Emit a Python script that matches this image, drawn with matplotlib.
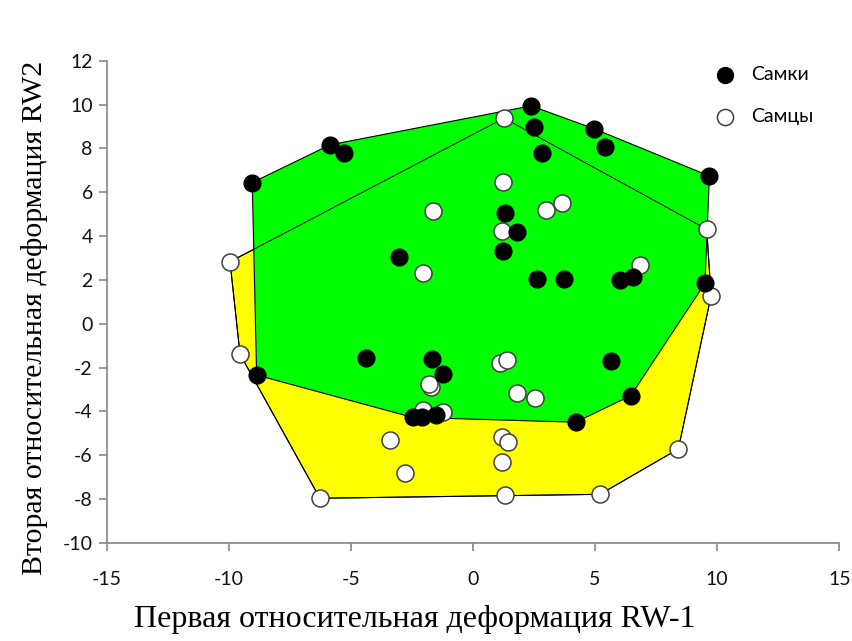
import numpy as np
import matplotlib
matplotlib.use('Agg')
import matplotlib.pyplot as plt
from matplotlib.patches import Polygon

plt.rcParams['axes.unicode_minus'] = False

# RW-1 / RW-2 scores, females
fem_x = [2.38, 2.50, 4.97, 5.42, 2.81, 9.68, -5.86, -5.27, -9.04, 1.31,
         1.79, 1.24, -3.02, 2.61, 3.74, 6.02, 6.56, 9.50, -4.39, -1.69,
         -1.24, -8.86, -2.47, -2.10, -1.53, 5.64, 6.46, 4.21]
fem_y = [9.94, 8.99, 8.89, 8.05, 7.81, 6.74, 8.16, 7.81, 6.44, 5.04,
         4.20, 3.32, 3.06, 2.03, 2.03, 2.00, 2.12, 1.85, -1.57, -1.62,
         -2.29, -2.34, -4.27, -4.27, -4.16, -1.68, -3.28, -4.49]

# RW-1 / RW-2 scores, males
male_x = [1.27, -1.65, 1.24, 1.20, -2.04, -9.95, 3.63, 2.99, 9.57, 6.84,
          9.75, -9.54, -1.73, -1.80, 1.11, 1.38, 1.81, 2.54, -2.06, -1.22,
          -3.40, -2.78, -6.27, 1.18, 1.45, 1.20, 1.31, 8.41, 5.20]
male_y = [9.38, 5.13, 6.48, 4.23, 2.33, 2.83, 5.50, 5.19, 4.31, 2.68,
          1.28, -1.39, -2.87, -2.75, -1.80, -1.65, -3.14, -3.37, -3.93, -4.01,
          -5.30, -6.79, -7.96, -5.15, -5.38, -6.32, -7.81, -5.71, -7.78]

x_ticks = [-15, -10, -5, 0, 5, 10, 15]
y_ticks = [-10, -8, -6, -4, -2, 0, 2, 4, 6, 8, 10, 12]


def convex_hull(xs, ys):
    pts = sorted(set(zip(xs, ys)))

    def cross(o, a, b):
        return (a[0] - o[0]) * (b[1] - o[1]) - (a[1] - o[1]) * (b[0] - o[0])

    lower, upper = [], []
    for p in pts:
        while len(lower) >= 2 and cross(lower[-2], lower[-1], p) <= 0:
            lower.pop()
        lower.append(p)
    for p in reversed(pts):
        while len(upper) >= 2 and cross(upper[-2], upper[-1], p) <= 0:
            upper.pop()
        upper.append(p)
    return np.array(lower[:-1] + upper[:-1])


fig = plt.figure(figsize=(8.52, 6.41), dpi=100)
ax = fig.add_axes([106.7 / 852, 1 - 543 / 641, 732.6 / 852, 482.3 / 641])

male_hull = convex_hull(male_x, male_y)
fem_hull = convex_hull(fem_x, fem_y)

ax.add_patch(Polygon(male_hull, closed=True, facecolor='#ffff00',
                     edgecolor='black', linewidth=0.8, zorder=1))
ax.add_patch(Polygon(fem_hull, closed=True, facecolor='#00ff00',
                     edgecolor='black', linewidth=0.8, zorder=2))
# male outline again so it shows through the green area
ax.add_patch(Polygon(male_hull, closed=True, fill=False,
                     edgecolor='black', linewidth=0.7, zorder=3))

ax.scatter(male_x, male_y, s=150, facecolor='white', edgecolor='#404040',
           linewidth=1.1, zorder=4, label='Самцы')
ax.scatter(fem_x, fem_y, s=150, facecolor='black', edgecolor='black',
           linewidth=0.8, zorder=5, label='Самки')

ax.set_xlim(-15, 15)
ax.set_ylim(-10, 12)
ax.set_xticks(x_ticks)
ax.set_yticks(y_ticks)

for side in ['top', 'right']:
    ax.spines[side].set_visible(False)
for side in ['left', 'bottom']:
    ax.spines[side].set_color('#868686')
    ax.spines[side].set_linewidth(1.2)

ax.tick_params(axis='both', direction='out', length=6, width=1.2,
               color='#868686', labelsize=14, labelcolor='#111111')
ax.tick_params(axis='x', pad=14)
ax.tick_params(axis='y', pad=4)
for lbl in ax.get_xticklabels() + ax.get_yticklabels():
    lbl.set_family('Lato')

ax.set_xlabel('Первая относительная деформация RW-1',
              family='Liberation Serif', fontsize=23)
ax.set_ylabel('Вторая относительная деформация RW2',
              family='Liberation Serif', fontsize=21.5)
ax.xaxis.set_label_coords(0.421, -0.128)
ax.yaxis.set_label_coords(-0.08, 0.466)

handles, labels = ax.get_legend_handles_labels()
leg = ax.legend(handles[::-1], labels[::-1], loc='upper left',
                bbox_to_anchor=(0.8174, 0.989), frameon=False,
                prop={'family': 'Lato', 'size': 14},
                handletextpad=0.35, labelspacing=1.3, scatterpoints=1,
                markerscale=0.95, borderpad=0, borderaxespad=0)

fig.savefig('out.png', dpi=100, facecolor='white')
